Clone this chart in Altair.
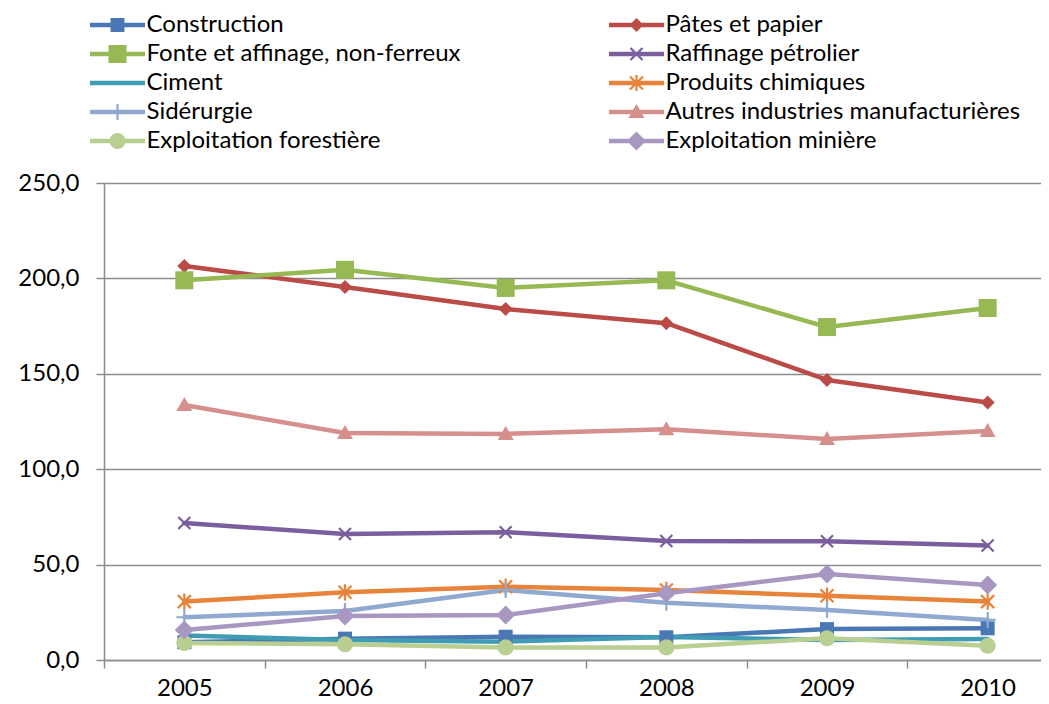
import math
import altair as alt
import pandas as pd

years = ["2005", "2006", "2007", "2008", "2009", "2010"]
series = [
    "Construction",
    "Pâtes et papier",
    "Fonte et affinage, non-ferreux",
    "Raffinage pétrolier",
    "Ciment",
    "Produits chimiques",
    "Sidérurgie",
    "Autres industries manufacturières",
    "Exploitation forestière",
    "Exploitation minière",
]
construction = [9.3, 11.2, 12.2, 11.9, 16.2, 16.6]
pates = [206.5, 195.5, 184.0, 176.5, 146.8, 135.0]
fonte = [199.0, 204.5, 195.0, 199.0, 174.5, 184.5]
raffinage = [71.8, 66.0, 67.0, 62.4, 62.2, 60.0]
ciment = [12.8, 10.5, 9.6, 12.0, 10.5, 11.0]
produits = [30.6, 35.5, 38.4, 36.7, 33.7, 30.6]
siderurgie = [22.4, 25.7, 36.7, 30.0, 26.2, 21.0]
autres = [133.6, 119.0, 118.5, 121.0, 115.8, 120.0]
forestiere = [8.9, 8.2, 6.6, 6.6, 11.4, 7.5]
miniere = [15.7, 23.1, 23.6, 35.0, 45.1, 39.3]

colors = ["#4A78B4", "#BB4B47", "#96B954", "#7A5E9E", "#3F9CB4",
          "#E8833A", "#8FA9D1", "#D58F8D", "#B9CE91", "#A797C1"]

values = [construction, pates, fonte, raffinage, ciment, produits,
          siderurgie, autres, forestiere, miniere]

rows = []
for i, (name, vals) in enumerate(zip(series, values)):
    for y, v in zip(years, vals):
        rows.append({"serie": name, "annee": y, "valeur": v, "ordre": i})
df = pd.DataFrame(rows)


# ---- marker geometry (pixels) -> custom symbol paths ----
def seg(x1, y1, x2, y2, t):
    L = math.hypot(x2 - x1, y2 - y1)
    dx, dy = (x2 - x1) / L, (y2 - y1) / L
    nx, ny = dy * t, -dx * t
    return [(x1 + nx, y1 + ny), (x2 + nx, y2 + ny), (x2 - nx, y2 - ny), (x1 - nx, y1 - ny)]


def square(h):
    return [[(-h, -h), (h, -h), (h, h), (-h, h)]]


def diamond(h):
    return [[(0, -h), (h, 0), (0, h), (-h, 0)]]


def triangle(h):
    return [[(0, -h), (h, h * 0.75), (-h, h * 0.75)]]


def circle(r):
    return [[(r * math.cos(2 * math.pi * k / 28), r * math.sin(2 * math.pi * k / 28)) for k in range(28)]]


def xmark(h, t):
    return [seg(-h, -h, h, h, t), seg(-h, h, h, -h, t)]


def plus(h, t):
    return [seg(0, -h, 0, h, t), seg(-h, 0, h, 0, t)]


def star(h, t):
    return xmark(h, t) + [seg(0, -h * 1.25, 0, h * 1.25, t)]


markers = [
    square(7),
    diamond(7),
    square(9),
    xmark(6, 1.1),
    [],
    star(6.5, 1.1),
    plus(8, 1.1),
    triangle(8),
    circle(8),
    diamond(9.5),
]


def to_path(polys, u):
    if not polys:
        return "M0,0Z"
    out = ""
    for p in polys:
        out += "M" + "L".join(f"{x / u:.3f},{y / u:.3f}" for x, y in p) + "Z"
    return out


PLOT_SIZE = 400      # unit = 10 px
LEG_SIZE = 576       # unit = 12 px
plot_shapes = [to_path(m, 10) for m in markers]
leg_shapes = [to_path([seg(-27.5, 0, 27.5, 0, 2.2)] + m, 12) for m in markers]

font = "Lato"

x_enc = alt.X(
    "annee:N",
    sort=years,
    scale=alt.Scale(type="band", domain=years, range=[0, 964], paddingInner=0, paddingOuter=0),
    axis=alt.Axis(
        title=None, tickBand="extent", tickSize=8, tickColor="#8c8c8c", tickWidth=1.5,
        domainColor="#8c8c8c", domainWidth=1.5, labelFont=font, labelFontSize=24,
        labelColor="#000000", labelPadding=8, labelAngle=0, grid=False,
    ),
)
y_enc = alt.Y(
    "valeur:Q",
    scale=alt.Scale(domain=[0, 250], nice=False),
    axis=alt.Axis(
        title=None, values=[0, 50, 100, 150, 200, 250], tickSize=8, tickColor="#8c8c8c",
        tickWidth=1.5, domainColor="#8c8c8c", domainWidth=1.5, gridColor="#8c8c8c",
        gridWidth=1.5, labelFont=font, labelFontSize=24, labelColor="#000000",
        labelPadding=17, labelExpr="replace(format(datum.value, '.1f'), '.', ',')",
    ),
)

color_plain = alt.Color("serie:N", scale=alt.Scale(domain=series, range=colors), legend=None)

lines = alt.Chart(df).mark_line(strokeWidth=4.5, strokeJoin="round", strokeCap="round").encode(
    x=x_enc, y=y_enc, color=color_plain, order="ordre:Q"
)

points = alt.Chart(df).transform_filter(alt.datum.serie != "Ciment").mark_point(
    filled=True, opacity=1, size=PLOT_SIZE, strokeWidth=0
).encode(
    x=x_enc, y=y_enc, color=color_plain,
    shape=alt.Shape("serie:N", scale=alt.Scale(domain=series, range=plot_shapes), legend=None),
    order="ordre:Q",
)

leg_params = dict(
    title=None, orient="none", legendX=1.5, legendY=-170, columns=2, direction="horizontal",
    columnPadding=148, rowPadding=5, symbolSize=LEG_SIZE, labelOffset=17,
    labelFont=font, labelFontSize=24, labelColor="#000000", symbolStrokeWidth=0,
    symbolOpacity=1, labelLimit=600,
)

legend_layer = alt.Chart(df).transform_filter("false").mark_point(
    filled=True, opacity=1, size=LEG_SIZE, strokeWidth=0
).encode(
    x=x_enc, y=y_enc,
    color=alt.Color("serie:N", scale=alt.Scale(domain=series, range=colors), legend=alt.Legend(**leg_params)),
    shape=alt.Shape("serie:N", scale=alt.Scale(domain=series, range=leg_shapes), legend=alt.Legend(**leg_params)),
)

chart = alt.layer(lines, points, legend_layer).resolve_scale(
    color="independent", shape="independent"
).properties(
    width=937, height=477,
    autosize=alt.AutoSizeParams(type="none"),
    padding={"left": 96, "top": 175, "right": 0, "bottom": 40},
).configure_view(stroke=None).configure(background="#ffffff")

chart.save("out.html", embed_options={"renderer": "svg", "actions": False})
